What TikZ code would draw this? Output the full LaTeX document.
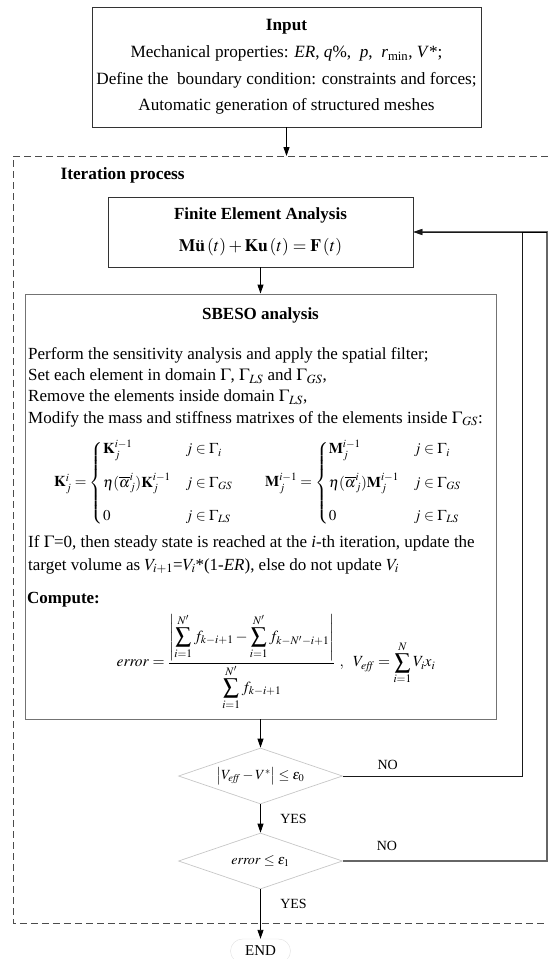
\documentclass[tikz,border=0pt]{standalone}
\usepackage{amsmath}
\usepackage{mathptmx}
\usepackage{fontspec}
\setmainfont{Liberation Serif}
\usetikzlibrary{arrows.meta,calc,positioning,shapes.geometric}

\tikzset{
  box/.style={draw=black!75, line width=0.9pt, inner sep=0pt},
  decision/.style={diamond, draw=black!22, line width=0.7pt, aspect=2.93,
    minimum width=164pt, minimum height=56pt, inner sep=0pt,
    font=\fontsize{14}{17}\selectfont},
  flow/.style={->, line width=0.9pt},
  txt/.style={font=\fontsize{17}{21}\selectfont},
  answer/.style={font=\fontsize{14}{17}\selectfont},
}

\begin{document}
\begin{tikzpicture}[>={Triangle[length=9pt,width=6pt]}, x=1pt, y=-1pt,
    every node/.style={txt}]
    \useasboundingbox (0,0) rectangle (548,959);
    % input data
    \node[box, draw=black!80, minimum width=389pt, minimum height=120pt, align=center,
          font=\fontsize{17.2}{26.7}\selectfont] (input) at (286.5,67)
      {\textbf{Input}\\
       Mechanical properties: \textit{ER}, \textit{q}\%,\ \ \textit{p},\ \ \textit{r}\textsubscript{min}, \textit{V}*;\\
       Define the\ \ boundary condition: constraints and forces;\\
       Automatic generation of structured meshes};
    % iteration frame, open on the right
    \draw[black!70, line width=0.8pt, dash pattern=on 7pt off 4pt]
      (548,156) -| (13,923) -- (548,923);
    \coordinate (itop) at (286.5,156);
    \draw[flow] (input) -- (itop);
    \node[anchor=west, font=\fontsize{17.3}{21}\selectfont\bfseries] (iter) at (57,175) {Iteration process};
    % FE analysis
    \node[box, draw=black!80, minimum width=305pt, minimum height=70pt, align=center] (fea) at (260.5,232)
      {\textbf{Finite Element Analysis}\\[11pt]
       {\fontsize{17.5}{20}\selectfont$\mathbf{M}\ddot{\mathbf{u}}\left(t\right)+\mathbf{K}\mathbf{u}\left(t\right)=\mathbf{F}\left(t\right)$}};
    % SBESO step
    \node[box, draw=black!55, minimum width=471pt, minimum height=425pt] (sbeso) at (260.5,506.5) {};
    \node[font=\fontsize{17}{21}\selectfont\bfseries] (sbtitle) at (260.5,315) {SBESO analysis};
    \node[anchor=north west, align=left, inner sep=0pt, font=\fontsize{17}{21.3}\selectfont] (steps) at (28,347)
      {Perform the sensitivity analysis and apply the spatial filter;\\
       Set each element in domain $\Gamma$, $\Gamma_{LS}$ and $\Gamma_{GS}$,\\
       Remove the elements inside domain $\Gamma_{LS}$,\\
       Modify the mass and stiffness matrixes of the elements inside $\Gamma_{GS}$:};
    \node[font=\fontsize{15}{19}\selectfont] (update) at (258,483)
      {$\mathbf{K}_j^i=\left\{\begin{array}{@{}l@{\quad}l@{}}
          \mathbf{K}_j^{i-1} & j\in\Gamma_i\\[14pt]
          \eta(\overline{\alpha}_j^i)\mathbf{K}_j^{i-1} & j\in\Gamma_{GS}\\[14pt]
          0 & j\in\Gamma_{LS}
        \end{array}\right.\qquad
        \mathbf{M}_j^{i-1}=\left\{\begin{array}{@{}l@{\quad}l@{}}
          \mathbf{M}_j^{i-1} & j\in\Gamma_i\\[14pt]
          \eta(\overline{\alpha}_j^i)\mathbf{M}_j^{i-1} & j\in\Gamma_{GS}\\[14pt]
          0 & j\in\Gamma_{LS}
        \end{array}\right.$};
    \node[anchor=north west, align=left, inner sep=0pt, font=\fontsize{17}{23}\selectfont] (volume) at (28,535)
      {If $\Gamma$=0, then steady state is reached at the \textit{i}-th iteration, update the\\
       target volume as $V_{i+1}$=$V_i$*(1-\textit{ER}), else do not update $V_i$};
    \node[anchor=west, inner sep=0pt, font=\fontsize{17}{21}\selectfont\bfseries] (compute) at (27,600) {Compute:};
    \node[font=\fontsize{15.5}{19}\selectfont] (errform) at (276,662)
      {$\mathit{error}=\dfrac{\displaystyle\left|\sum_{i=1}^{N'}f_{k-i+1}-\sum_{i=1}^{N'}f_{k-N'-i+1}\right|}{\displaystyle\sum_{i=1}^{N'}f_{k-i+1}}\ ,\ \ V_{\mathit{eff}}=\displaystyle\sum_{i=1}^{N}V_ix_i$};
    % checks
    \node[decision] (vcheck) at (260.5,776) {$\left|V_{\mathit{eff}}-V^{*}\right|\le\varepsilon_0$};
    \node[decision] (echeck) at (260.5,861) {$\mathit{error}\le\varepsilon_1$};
    \node[draw=black!12, rounded corners=12pt, minimum width=60pt, minimum height=24pt,
          font=\fontsize{15}{18}\selectfont] (stop) at (260.5,951) {END};
    \coordinate (loopA) at (522,232);
    \coordinate (loopB) at (547,232);
    \draw[flow] (fea) -- (sbeso);
    \draw[flow] (sbeso) -- (vcheck);
    \draw[flow] (vcheck) -- node[answer, right=16pt] {YES} (echeck);
    \draw[flow] (echeck) -- node[answer, pos=0.3, right=16pt] {YES} (stop);
    % back to the FE analysis
    \draw[->, line width=1.1pt, black!60] (echeck.east) -| node[answer, pos=0.108, above=6pt, black] {NO} (loopB) -- (fea.east);
    \draw[->, line width=0.9pt, black!90] (vcheck.east) -| node[answer, pos=0.125, above=3pt, black] {NO} (loopA) -- (fea.east);
    \draw[line width=0.9pt] (loopB) -- (loopA);
\end{tikzpicture}
\end{document}
